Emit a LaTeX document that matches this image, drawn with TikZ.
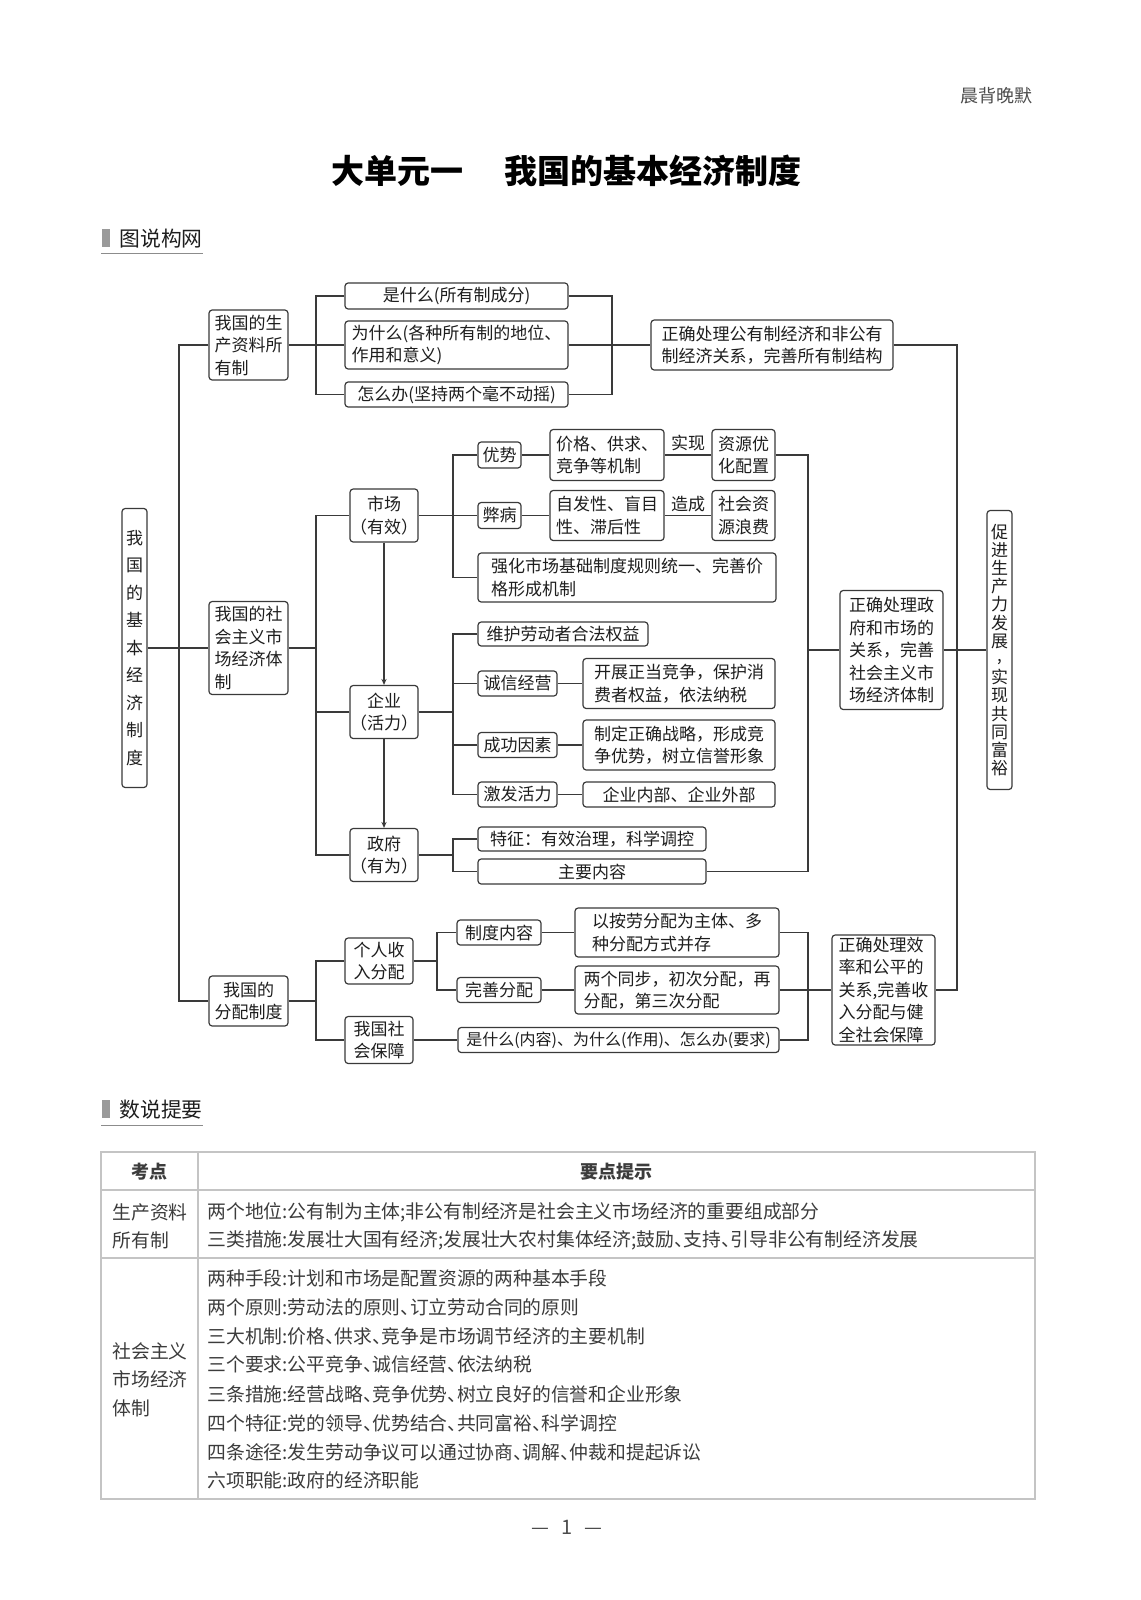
\documentclass[tikz,border=0pt]{standalone}
\usepackage{fontspec}
\setmainfont{Noto Sans CJK SC}
\usetikzlibrary{arrows.meta}
\definecolor{ln}{HTML}{3A3A3A}
\definecolor{tx}{HTML}{1E1E1E}
\definecolor{tb}{HTML}{C4C4C4}
\definecolor{tt}{HTML}{3C3C3C}
\definecolor{hb}{HTML}{9A9A9A}
\newcommand{\dn}{\makebox[0.5em][l]{、}}
\begin{document}
\begin{tikzpicture}[x=0.5pt,y=-0.5pt,
  box/.style={draw=ln, line width=0.6pt, rounded corners=1.6pt, inner sep=0pt,
    font=\fontsize{8.5}{11.25}\selectfont, text=tx, align=left},
  sz/.style 2 args={minimum width=#1*0.5pt, minimum height=#2*0.5pt},
  conn/.style={draw=ln, line width=0.6pt},
  arr/.style={-{Stealth[length=3pt,width=2.6pt]}},
  lbl/.style={above, inner sep=1.5pt, font=\fontsize{8.5}{10}\selectfont, text=tx},
  tbl/.style={draw=tb, line width=0.7pt},
  ttxt/.style={anchor=west, inner sep=0pt, font=\fontsize{9.4}{11}\selectfont, text=tt},
  head/.style={anchor=west, inner sep=0pt, font=\fontsize{10.4}{12}\selectfont, text=tx},
]
\useasboundingbox[fill=white] (0,0) rectangle (1140,1600);

% header
\node[font=\fontsize{9}{11}\selectfont, text=black!70] (corner) at (996,96) {晨背晚默};
\node[font=\fontsize{16.5}{18}\selectfont\bfseries, text=black] (title) at (566.5,171) {大单元一\hspace{1.25em}我国的基本经济制度};

\fill[hb] (102,229) rectangle (110,247);
\node[head] (h1) at (119,238.5) {图说构网};
\draw[draw=black!45, line width=0.5pt] (101,253.5) -- (203,253.5);

% bracket x positions
\coordinate (bxF) at (179,0);
\coordinate (bxA) at (316,0);
\coordinate (bxB) at (612,0);
\coordinate (bxC) at (453,0);
\coordinate (bxG) at (437,0);
\coordinate (bxD) at (808,0);
\coordinate (bxE) at (957,0);

% root and goal
\node[box, sz={25}{279}, align=center, font=\fontsize{8.5}{13.75}\selectfont] (root) at (134.5,648) {我\\国\\的\\基\\本\\经\\济\\制\\度};
\node[box, sz={25}{279}, align=center, font=\fontsize{8.5}{9.1}\selectfont] (goal) at (999.5,650) {促\\进\\生\\产\\力\\发\\展\\\raisebox{2pt}{,}\\实\\现\\共\\同\\富\\裕};

% ownership
\node[box, sz={79}{70}] (own) at (248.5,345) {我国的生\\产资料所\\有制};
\node[box, sz={223}{26}, align=center] (q1) at (456.5,296) {是什么(所有制成分)};
\node[box, sz={223}{48}] (q2) at (456.5,345) {为什么(各种所有制的地位、\\作用和意义)};
\node[box, sz={223}{25}, align=center] (q3) at (456.5,394.5) {怎么办(坚持两个毫不动摇)};
\node[box, sz={242}{50}] (rel1) at (772,345) {正确处理公有制经济和非公有\\制经济关系，完善所有制结构};

% market economy
\node[box, sz={79}{93}] (box2) at (248.5,648) {我国的社\\会主义市\\场经济体\\制};
\node[box, sz={64}{53}, align=center] (mkt) at (384,515.5) {市场\\（有效）};
\node[box, sz={64}{53}, align=center] (ent) at (384,712) {企业\\（活力）};
\node[box, sz={64}{53}, align=center] (gov) at (384,855) {政府\\（有为）};

\node[box, sz={43}{26}, align=center] (adv) at (499.5,455) {优势};
\node[box, sz={43}{26}, align=center] (dis) at (499.5,515.5) {弊病};
\node[box, sz={298}{49}] (str) at (627,577.5) {强化市场基础制度规则统一、完善价\\格形成机制};
\node[box, sz={114}{51}] (mech) at (607,455) {价格、供求、\\竞争等机制};
\node[box, sz={63}{51}] (res) at (743.5,455) {资源优\\化配置};
\node[box, sz={114}{50}] (spont) at (607,515.5) {自发性、盲目\\性、滞后性};
\node[box, sz={63}{50}] (waste) at (743.5,515.5) {社会资\\源浪费};

\node[box, sz={170}{24}, align=center] (labor) at (563,634) {维护劳动者合法权益};
\node[box, sz={79}{25}, align=center] (hon) at (517.5,683.5) {诚信经营};
\node[box, sz={192}{50}] (fair) at (679,683.5) {开展正当竞争，保护消\\费者权益，依法纳税};
\node[box, sz={79}{25}, align=center] (succ) at (517.5,745) {成功因素};
\node[box, sz={192}{50}] (strat) at (679,745) {制定正确战略，形成竞\\争优势，树立信誉形象};
\node[box, sz={79}{25}, align=center] (vit) at (517.5,794.5) {激发活力};
\node[box, sz={192}{25}, align=center] (inout) at (679,794.5) {企业内部、企业外部};

\node[box, sz={228}{24}, align=center] (feat) at (592,839) {特征：有效治理，科学调控};
\node[box, sz={228}{25}, align=center] (mainc) at (592,871.5) {主要内容};

\node[box, sz={103}{119}] (rel2) at (891.5,650) {正确处理政\\府和市场的\\关系，完善\\社会主义市\\场经济体制};

% distribution
\node[box, sz={79}{50}, align=center] (dist) at (248.5,1001) {我国的\\分配制度};
\node[box, sz={68}{46}] (inc) at (379,961) {个人收\\入分配};
\node[box, sz={68}{47}] (soc) at (379,1040) {我国社\\会保障};
\node[box, sz={84}{25}, align=center] (sys) at (499,932.5) {制度内容};
\node[box, sz={84}{25}, align=center] (perf) at (499,990) {完善分配};
\node[box, sz={204}{49}] (lab) at (677,932.5) {以按劳分配为主体、多\\种分配方式并存};
\node[box, sz={204}{48}] (sync) at (677,990) {两个同步，初次分配，再\\分配，第三次分配};
\node[box, sz={321}{25}, align=center, font=\fontsize{8}{10}\selectfont] (what) at (618.5,1040) {是什么(内容)、为什么(作用)、怎么办(要求)};
\node[box, sz={103}{110}] (rel3) at (883.5,990) {正确处理效\\率和公平的\\关系,完善收\\入分配与健\\全社会保障};

% connectors
\draw[conn] (own.west) -- (own.west -| bxF) |- (dist.west);
\draw[conn] (root.east) -- (box2.west);
\draw[conn] (q1.west) -- (q1.west -| bxA) |- (q3.west);
\draw[conn] (own.east) -- (q2.west);
\draw[conn] (q1.east) -- (q1.east -| bxB) |- (q3.east);
\draw[conn] (q2.east) -- (rel1.west);
\draw[conn] (rel1.east) -- (rel1.east -| bxE) |- (rel3.east);
\draw[conn] (rel2.east) -- (goal.west);

\draw[conn] (box2.east) -- (box2.east -| bxA);
\draw[conn] (mkt.west) -- (mkt.west -| bxA) |- (gov.west);
\draw[conn] (ent.west) -- (ent.west -| bxA);
\draw[conn,arr] (mkt.south) -- (ent.north);
\draw[conn,arr] (ent.south) -- (gov.north);

\draw[conn] (adv.west) -- (adv.west -| bxC) |- (str.west);
\draw[conn] (mkt.east) -- (dis.west);
\draw[conn] (adv.east) -- (mech.west);
\draw[conn] (mech.east) -- node[lbl] (l1) {实现} (res.west);
\draw[conn] (dis.east) -- (spont.west);
\draw[conn] (spont.east) -- node[lbl] (l2) {造成} (waste.west);
\draw[conn] (res.east) -- (res.east -| bxD) |- (mainc.east);
\draw[conn] (rel2.west) -- (rel2.west -| bxD);

\draw[conn] (labor.west) -- (labor.west -| bxC) |- (vit.west);
\draw[conn] (ent.east) -- (ent.east -| bxC);
\draw[conn] (hon.west) -- (hon.west -| bxC);
\draw[conn] (succ.west) -- (succ.west -| bxC);
\draw[conn] (hon.east) -- (fair.west);
\draw[conn] (succ.east) -- (strat.west);
\draw[conn] (vit.east) -- (inout.west);
\draw[conn] (feat.west) -- (feat.west -| bxC) |- (mainc.west);
\draw[conn] (gov.east) -- (gov.east -| bxC);

\draw[conn] (dist.east) -- (dist.east -| bxA);
\draw[conn] (inc.west) -- (inc.west -| bxA) |- (soc.west);
\draw[conn] (inc.east) -- (inc.east -| bxG);
\draw[conn] (sys.west) -- (sys.west -| bxG) |- (perf.west);
\draw[conn] (sys.east) -- (lab.west);
\draw[conn] (perf.east) -- (sync.west);
\draw[conn] (soc.east) -- (what.west);
\draw[conn] (lab.east) -- (lab.east -| bxD) |- (what.east);
\draw[conn] (sync.east) -- (rel3.west);

% second heading
\fill[hb] (102,1100) rectangle (110,1118);
\node[head] (h2) at (119,1109.5) {数说提要};
\draw[draw=black!45, line width=0.5pt] (101,1125) -- (203,1125);

% table
\draw[tbl] (101,1152) rectangle (1035,1499);
\draw[tbl] (101,1190) -- (1035,1190);
\draw[tbl] (101,1258) -- (1035,1258);
\draw[tbl] (198,1152) -- (198,1499);

\node[font=\fontsize{9}{11}\selectfont\bfseries, text=tt] (k1) at (149.5,1172) {考点};
\node[font=\fontsize{9}{11}\selectfont\bfseries, text=tt] (k2) at (616.5,1172) {要点提示};

\node[ttxt] (a1) at (112,1212) {生产资料};
\node[ttxt] (a2) at (112,1240) {所有制};
\node[ttxt] (b1) at (207,1212) {两个地位:公有制为主体;非公有制经济是社会主义市场经济的重要组成部分};
\node[ttxt] (b2) at (207,1240) {三类措施:发展壮大国有经济;发展壮大农村集体经济;鼓励\dn 支持\dn 引导非公有制经济发展};

\node[ttxt] (c1) at (112,1351) {社会主义};
\node[ttxt] (c2) at (112,1379) {市场经济};
\node[ttxt] (c3) at (112,1408) {体制};
\node[ttxt] (d1) at (207,1278) {两种手段:计划和市场是配置资源的两种基本手段};
\node[ttxt] (d2) at (207,1307) {两个原则:劳动法的原则\dn 订立劳动合同的原则};
\node[ttxt] (d3) at (207,1336) {三大机制:价格\dn 供求\dn 竞争是市场调节经济的主要机制};
\node[ttxt] (d4) at (207,1364) {三个要求:公平竞争\dn 诚信经营\dn 依法纳税};
\node[ttxt] (d5) at (207,1394) {三条措施:经营战略\dn 竞争优势\dn 树立良好的信誉和企业形象};
\node[ttxt] (d6) at (207,1423) {四个特征:党的领导\dn 优势结合\dn 共同富裕\dn 科学调控};
\node[ttxt] (d7) at (207,1452) {四条途径:发生劳动争议可以通过协商\dn 调解\dn 仲裁和提起诉讼};
\node[ttxt] (d8) at (207,1480) {六项职能:政府的经济职能};

\node[font=\fontsize{10}{12}\selectfont, text=black!70] (pg) at (567,1527) {—\hspace{0.6em}1\hspace{0.6em}—};
\end{tikzpicture}
\end{document}
